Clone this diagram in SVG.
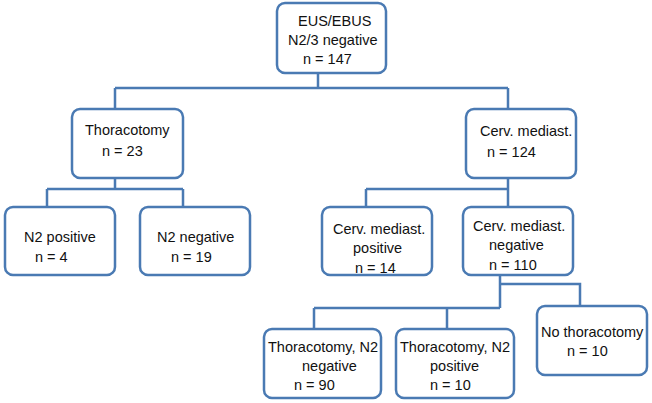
<svg xmlns="http://www.w3.org/2000/svg" width="652" height="403" viewBox="0 0 652 403">
<style>
.box{fill:#fff;stroke:#4a7ab3;stroke-width:2.5}
.ln{fill:none;stroke:#4a7ab3;stroke-width:2.5}
text{font-family:"Liberation Sans",Arial,sans-serif;font-size:14.5px;fill:#111}
</style>
<rect width="652" height="403" fill="#fff"/>
<g id="connectors">
<path class="ln" d="M318 73V88M115 88H508M115 88V109M508 88V109"/>
<path class="ln" d="M115 178V189M47 189H183M47 189V207M183 189V207"/>
<path class="ln" d="M508 178V189M366 189H508M366 189V207M508 189V207"/>
<path class="ln" d="M500 275V308M500 284H580V306M314 308H500M314 308V329M447 308V329"/>
</g>
<g id="n_root"><rect class="box" x="277" y="3" width="109" height="70" rx="8"/>
<text x="298" y="26">EUS/EBUS</text><text x="288" y="45">N2/3 negative</text><text x="303" y="64">n = 147</text></g>
<g id="n_thor"><rect class="box" x="72" y="109" width="111" height="69" rx="8"/>
<text x="85" y="135">Thoracotomy</text><text x="102" y="156">n = 23</text></g>
<g id="n_cerv"><rect class="box" x="466" y="109" width="110" height="69" rx="8"/>
<text x="480" y="136">Cerv. mediast.</text><text x="487" y="157">n = 124</text></g>
<g id="n_n2pos"><rect class="box" x="5" y="207" width="110" height="68" rx="8"/>
<text x="24" y="242">N2 positive</text><text x="35" y="262">n = 4</text></g>
<g id="n_n2neg"><rect class="box" x="140" y="207" width="110" height="68" rx="8"/>
<text x="157" y="242">N2 negative</text><text x="171" y="262">n = 19</text></g>
<g id="n_cpos"><rect class="box" x="322" y="207" width="110" height="68" rx="8"/>
<text x="333" y="234">Cerv. mediast.</text><text x="353" y="253">positive</text><text x="355" y="273">n = 14</text></g>
<g id="n_cneg"><rect class="box" x="463" y="207" width="110" height="68" rx="8"/>
<text x="473" y="231">Cerv. mediast.</text><text x="489" y="250">negative</text><text x="489" y="270">n = 110</text></g>
<g id="n_tneg"><rect class="box" x="264" y="329" width="117" height="69" rx="8"/>
<text x="268" y="352">Thoracotomy, N2</text><text x="302" y="371">negative</text><text x="294" y="390">n = 90</text></g>
<g id="n_tpos"><rect class="box" x="396" y="329" width="118" height="69" rx="8"/>
<text x="400" y="352">Thoracotomy, N2</text><text x="430" y="371">positive</text><text x="430" y="390">n = 10</text></g>
<g id="n_nothor"><rect class="box" x="537" y="306" width="110" height="69" rx="8"/>
<text x="541" y="337">No thoracotomy</text><text x="567" y="356">n = 10</text></g>
</svg>
